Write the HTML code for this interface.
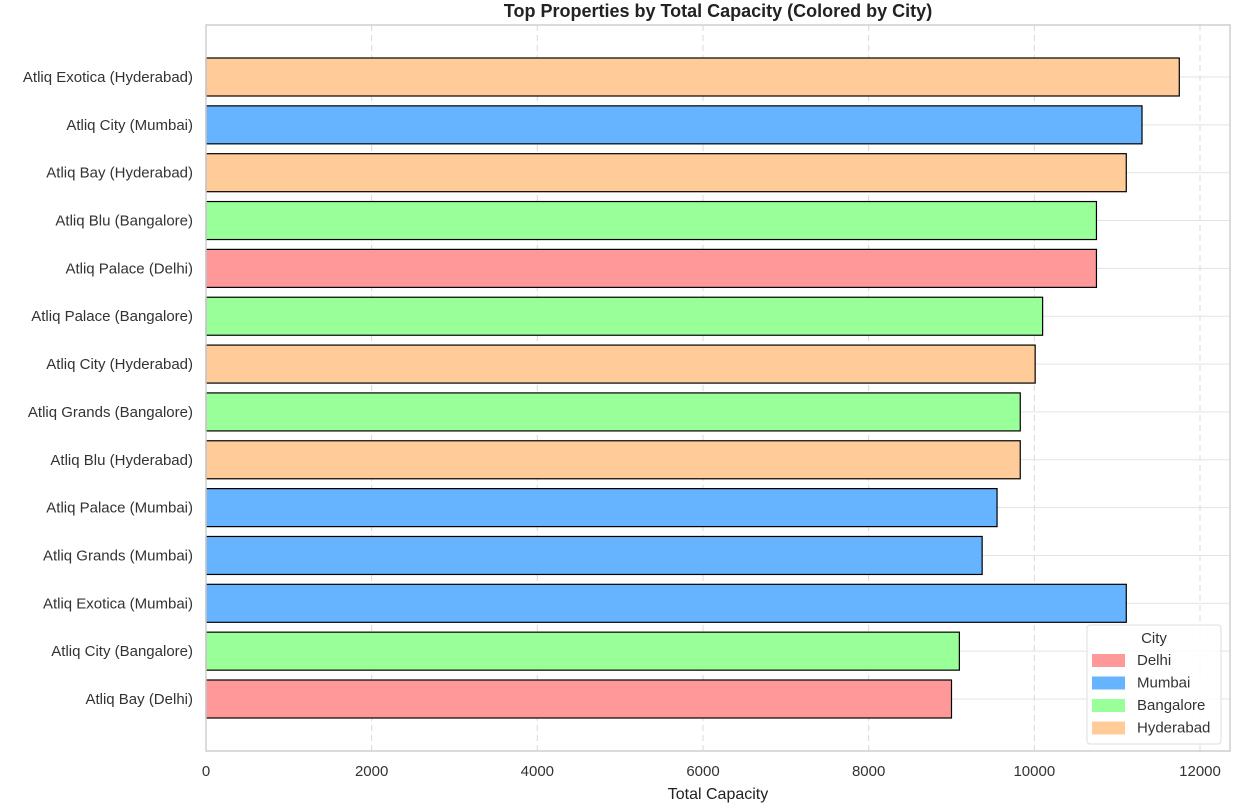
<!DOCTYPE html>
<html><head><meta charset="utf-8"><style>
body{margin:0;background:#fff;font-family:"Liberation Sans",sans-serif}
</style></head><body>
<svg id="chart" width="1241" height="807" xmlns="http://www.w3.org/2000/svg" font-family="Liberation Sans, sans-serif"></svg>
<script>
const categories=["Atliq Exotica (Hyderabad)","Atliq City (Mumbai)","Atliq Bay (Hyderabad)","Atliq Blu (Bangalore)","Atliq Palace (Delhi)","Atliq Palace (Bangalore)","Atliq City (Hyderabad)","Atliq Grands (Bangalore)","Atliq Blu (Hyderabad)","Atliq Palace (Mumbai)","Atliq Grands (Mumbai)","Atliq Exotica (Mumbai)","Atliq City (Bangalore)","Atliq Bay (Delhi)"];
const values=[11750,11300,11110,10750,10750,10100,10010,9830,9830,9550,9370,11110,9095,9000];
const cities=["Hyderabad","Mumbai","Hyderabad","Bangalore","Delhi","Bangalore","Hyderabad","Bangalore","Hyderabad","Mumbai","Mumbai","Mumbai","Bangalore","Delhi"];
const legendCities=["Delhi","Mumbai","Bangalore","Hyderabad"];
const xTicks=[0,2000,4000,6000,8000,10000,12000];
const colorMap={Delhi:"#ff9999",Mumbai:"#66b3ff",Bangalore:"#99ff99",Hyderabad:"#ffcc99"};
const svg=document.getElementById('chart');
const NS="http://www.w3.org/2000/svg";
const L=206,R=1230,T=25,B=751,x0=206,pxPer=(1200-206)/12000;
const rowTop=77,rowStep=(699-77)/13,barH=38;
const X=v=>x0+v*pxPer, Y=i=>rowTop+i*rowStep;
function mk(tag,attrs,name,text){const e=document.createElementNS(NS,tag);for(const k in attrs)e.setAttribute(k,attrs[k]);


if(text!==undefined)e.textContent=text;svg.appendChild(e);return e;}
xTicks.forEach(t=>{mk('line',{x1:X(t),x2:X(t),y1:T,y2:B,stroke:'#d9d9d9','stroke-dasharray':'6,4','stroke-width':1},'x-gridline');
mk('text',{x:X(t),y:776,'text-anchor':'middle','font-size':15,fill:'#333'},'x-tick-label',t);});
categories.forEach((c,i)=>{mk('line',{x1:L,x2:R,y1:Y(i),y2:Y(i),stroke:'#e3e3e3','stroke-width':1},'y-gridline');});
categories.forEach((c,i)=>{
mk('rect',{x:X(0),y:Y(i)-barH/2,width:X(values[i])-X(0),height:barH,fill:colorMap[cities[i]],stroke:'#000','stroke-width':1.2},'bar-'+i);
mk('text',{x:193,y:Y(i)+5,'text-anchor':'end','font-size':15,fill:'#333'},'y-tick-label',c);});
mk('rect',{x:L,y:T,width:R-L,height:B-T,fill:'none',stroke:'#cfcfcf','stroke-width':1.5},'plot-frame');
mk('text',{x:718,y:17,'text-anchor':'middle','font-size':18,'font-weight':'bold',fill:'#222'},'chart-title','Top Properties by Total Capacity (Colored by City)');
mk('text',{x:718,y:799,'text-anchor':'middle','font-size':16,fill:'#222'},'x-axis-title','Total Capacity');
mk('rect',{x:1087,y:625,width:134,height:119,rx:3,fill:'#fff','fill-opacity':0.85,stroke:'#ddd'},'legend');
mk('text',{x:1154,y:643,'text-anchor':'middle','font-size':15,fill:'#333'},'legend-title','City');
legendCities.forEach((c,i)=>{const y=660+i*22.5;
mk('rect',{x:1092,y:y-6,width:33,height:13,fill:colorMap[c]},'legend-swatch-'+c.toLowerCase());
mk('text',{x:1137,y:y+5,'font-size':15,fill:'#333'},'legend-entry-'+c.toLowerCase(),c);});
</script>
</body></html>
